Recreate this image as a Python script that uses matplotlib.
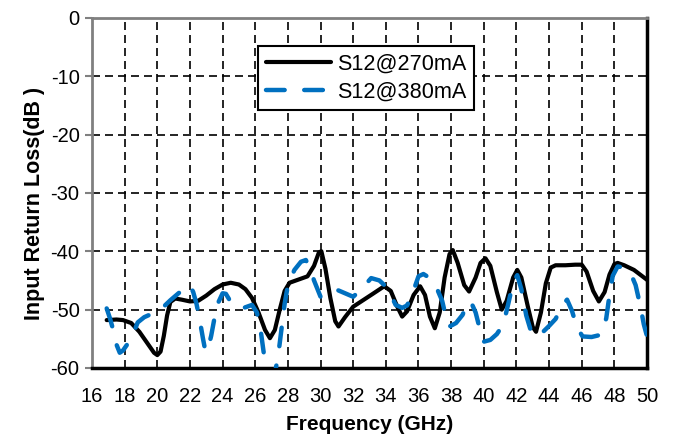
import matplotlib
matplotlib.use("agg")
import matplotlib.pyplot as plt

plt.rcParams['font.family'] = ['Liberation Sans', 'DejaVu Sans']
plt.rcParams['axes.unicode_minus'] = False

# measured S12 vs frequency at two bias currents
freq_270 = [16.9, 17.5, 17.9, 18.4, 18.9, 19.4, 19.8, 20.0, 20.2, 20.4, 20.6, 20.8,
            21.1, 21.5, 22.0, 22.5, 23.0, 23.5, 24.0, 24.5, 25.0, 25.4, 25.8, 26.2,
            26.6, 26.9, 27.2, 27.5, 27.8, 28.1, 28.6, 29.2, 29.6, 29.9, 30.05, 30.3,
            30.6, 30.9, 31.1, 31.5, 32.0, 32.6, 33.2, 33.9, 34.3, 34.7, 35.0, 35.3,
            35.7, 36.1, 36.4, 36.7, 37.0, 37.3, 37.6, 37.9, 38.1, 38.4, 38.8, 39.1,
            39.5, 39.8, 40.1, 40.4, 40.8, 41.1, 41.4, 41.8, 42.05, 42.3, 42.7, 43.0,
            43.2, 43.5, 43.8, 44.1, 44.4, 45.0, 45.6, 46.0, 46.3, 46.7, 47.05, 47.4,
            47.7, 48.0, 48.2, 48.6, 49.2, 50.0]
s12_270 = [-51.8, -51.7, -51.8, -52.3, -53.8, -55.8, -57.4, -57.8, -57.2, -54.5, -51.0, -48.7,
           -48.1, -48.3, -48.6, -48.5, -47.6, -46.5, -45.7, -45.4, -45.7, -46.5, -48.0, -50.5,
           -53.5, -54.9, -53.5, -50.0, -46.8, -45.4, -44.9, -44.3, -42.5, -40.2, -40.0, -43.0,
           -48.0, -52.0, -52.9, -51.3, -49.5, -48.4, -47.3, -46.0, -46.8, -49.5, -51.2, -50.3,
           -47.5, -46.0, -47.5, -51.2, -53.2, -50.5, -44.5, -40.5, -39.8, -42.0, -45.8, -46.9,
           -44.5, -42.0, -41.2, -42.5, -47.0, -50.0, -48.5, -44.5, -43.2, -44.5, -49.5, -53.0,
           -53.8, -50.5, -45.5, -42.8, -42.4, -42.4, -42.3, -42.3, -43.5, -46.8, -48.6, -47.0,
           -44.0, -42.2, -42.0, -42.4, -43.2, -44.9]

freq_380 = [16.9, 17.1, 17.3, 17.5, 17.7, 17.9, 18.2, 18.5, 18.8, 19.2, 19.6, 20.2,
            20.8, 21.3, 21.7, 22.0, 22.2, 22.4, 22.6, 22.8, 22.95, 23.1, 23.3, 23.5,
            23.7, 24.0, 24.2, 24.5, 24.9, 25.3, 25.8, 26.1, 26.3, 26.5, 26.7, 27.2,
            27.4, 27.6, 27.8, 28.0, 28.4, 28.8, 29.1, 29.4, 29.6, 30.0, 30.5, 31.0,
            31.5, 32.0, 32.5, 33.1, 33.6, 34.1, 34.6, 35.0, 35.3, 35.6, 36.0, 36.3,
            36.7, 37.1, 37.45, 37.7, 37.9, 38.3, 38.7, 39.0, 39.2, 39.5, 39.8, 40.0,
            40.4, 40.8, 41.2, 41.5, 41.8, 42.05, 42.3, 42.6, 42.9, 43.2, 43.6, 44.0,
            44.4, 44.8, 45.1, 45.4, 45.7, 46.05, 46.6, 47.2, 47.5, 47.7, 47.9, 48.2,
            48.6, 49.0, 49.3, 49.6, 49.8, 50.0]
s12_380 = [-49.8, -51.5, -53.5, -56.0, -57.4, -57.0, -55.8, -54.3, -52.2, -51.3, -50.8, -50.0,
           -48.4, -47.2, -46.3, -45.8, -47.0, -49.0, -51.8, -55.0, -57.2, -56.8, -54.5, -51.5,
           -49.0, -47.2, -47.3, -48.7, -49.6, -49.7, -49.2, -50.5, -52.9, -57.0, -61.0, -61.0,
           -58.0, -53.5, -49.0, -45.8, -43.2, -41.8, -41.5, -43.3, -45.0, -47.8, -47.2, -46.6,
           -47.2, -47.8, -46.5, -44.6, -45.0, -46.3, -49.2, -49.7, -49.3, -47.5, -44.3, -43.9,
           -44.6, -46.2, -48.5, -51.5, -52.9, -52.3, -50.9, -48.8, -48.6, -50.5, -53.8, -55.5,
           -55.2, -54.2, -52.5, -49.0, -45.3, -44.1, -46.5, -51.0, -53.8, -54.6, -53.9, -52.8,
           -51.6, -49.3, -48.3, -50.2, -53.0, -54.6, -54.7, -54.3, -51.5, -47.5, -44.2, -42.6,
           -42.8, -43.8, -45.8, -49.5, -52.5, -54.6]

fig = plt.figure(figsize=(6.74, 4.38), dpi=100)
ax = fig.add_axes([0.1365, 0.16, 0.8235, 0.799])

ax.plot(freq_270, s12_270, color='black', lw=3.0, solid_joinstyle='round',
        solid_capstyle='round', label='S12@270mA', zorder=3)
ax.plot(freq_380, s12_380, color='#0070C0', lw=3.2, linestyle=(0, (4.2, 4.4)),
        dash_capstyle='round', dash_joinstyle='round', label='S12@380mA', zorder=4)

ax.set_xlim(16, 50)
ax.set_ylim(-60, 0)
ax.set_xticks(range(16, 51, 2))
ax.set_yticks(range(-60, 1, 10))
ax.grid(True, color='black', linestyle=(0, (4.8, 3)), linewidth=1.2)
ax.set_axisbelow(True)

ax.tick_params(axis='x', length=0, pad=14, labelsize=14.5)
ax.tick_params(axis='y', length=5, width=1.5, color='#808080', pad=4, labelsize=14.5)

for side in ('left', 'top'):
    ax.spines[side].set_color('#808080')
    ax.spines[side].set_linewidth(2)
for side in ('right', 'bottom'):
    ax.spines[side].set_color('black')
    ax.spines[side].set_linewidth(2.5)

ax.set_xlabel('Frequency (GHz)', fontsize=15, fontweight='bold', labelpad=6)
ax.set_ylabel('Input Return Loss(dB )', fontsize=15.5, fontweight='bold', labelpad=4)
ax.yaxis.label.set_y(0.47)

leg = ax.legend(loc='upper left', bbox_to_anchor=(0.299, 0.92), borderaxespad=0,
                fontsize=15.6, handlelength=3.0, handletextpad=0.3, labelspacing=0.34,
                borderpad=0.35, fancybox=False, framealpha=1, edgecolor='black')
leg.get_frame().set_linewidth(1.5)

fig.savefig('out.png', dpi=100)
